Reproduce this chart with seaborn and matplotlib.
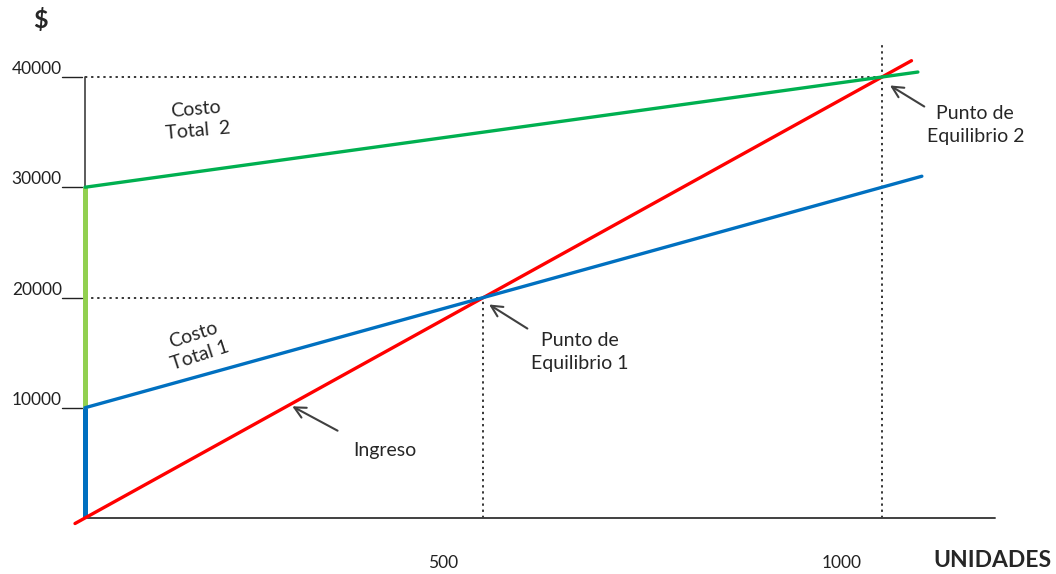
import pandas as pd
import matplotlib.pyplot as plt
import seaborn as sns

# --- datos del punto de equilibrio ---
unidades_ingreso = [-12.5, 0, 500, 1000, 1037]
ingreso = [-500, 0, 20000, 40000, 41480]

unidades_ct1 = [0, 500, 1000, 1050]
costo_total_1 = [10000, 20000, 30000, 31000]

unidades_ct2 = [0, 1000, 1045]
costo_total_2 = [30000, 40000, 40450]

y_ticks = [10000, 20000, 30000, 40000]
x_ticks = [500, 1000]
costo_fijo_1 = 10000
costo_fijo_2 = 30000
equilibrio_1 = (500, 20000)
equilibrio_2 = (1000, 40000)

sns.set_style('white')
plt.rcParams['font.family'] = ['Lato', 'DejaVu Sans']

fig = plt.figure(figsize=(10.56, 5.74), dpi=100)
ax = fig.add_axes([0, 0, 1, 1])
ax.set_xlim(-106.6, 1218.3)
ax.set_ylim(-5079, 46984)
ax.axis('off')

df = pd.concat([
    pd.DataFrame({'u': unidades_ingreso, 'v': ingreso, 'serie': 'Ingreso'}),
    pd.DataFrame({'u': unidades_ct1, 'v': costo_total_1, 'serie': 'Costo Total 1'}),
    pd.DataFrame({'u': unidades_ct2, 'v': costo_total_2, 'serie': 'Costo Total 2'}),
])
colores = {'Ingreso': '#FF0000', 'Costo Total 1': '#0070C0', 'Costo Total 2': '#00B050'}
sns.lineplot(data=df, x='u', y='v', hue='serie', palette=colores, sort=False,
             estimator=None, linewidth=2.4, legend=False, ax=ax, zorder=3)

# ejes
gris = '#404040'
ax.plot([0, 1142], [0, 0], color=gris, lw=1.4, zorder=2)
ax.plot([0, 0], [costo_fijo_2, 40000], color=gris, lw=1.2, zorder=2)
ax.plot([0, 0], [costo_fijo_1, costo_fijo_2], color='#92D050', lw=3.6, zorder=2, solid_capstyle='butt')
ax.plot([0, 0], [0, costo_fijo_1], color='#0070C0', lw=3.6, zorder=2, solid_capstyle='butt')

# lineas punteadas
pe1_u, pe1_v = equilibrio_1
pe2_u, pe2_v = equilibrio_2
punteado = dict(color='black', lw=1.1, ls=(0, (1.5, 2.5)), zorder=1)
ax.plot([0, pe1_u], [pe1_v, pe1_v], **punteado)
ax.plot([pe1_u, pe1_u], [0, pe1_v], **punteado)
ax.plot([0, pe2_u], [pe2_v, pe2_v], **punteado)
ax.plot([pe2_u, pe2_u], [0, 42900], **punteado)

# etiquetas del eje y con su "marca"
for t in y_ticks:
    ax.text(-29, t, f'{t}', ha='right', va='bottom', fontsize=12.5, color='#222222')
    ax.plot([-29, -4], [t, t], color='#222222', lw=1.0)

for t in x_ticks:
    ax.text(t - 51, -4082, f'{t}', ha='center', va='center', fontsize=12.5, color='#222222')

ax.text(-56, 45170, '$', ha='center', va='center', fontsize=18, fontweight='bold')
ax.text(1139, -3810, 'UNIDADES', ha='center', va='center', fontsize=16.5, fontweight='bold')

# textos de las curvas
ax.text(140, 36100, 'Costo\nTotal  2', ha='center', va='center', fontsize=14,
        rotation=5, linespacing=1.3)
ax.text(140, 15690, 'Costo\nTotal 1', ha='center', va='center', fontsize=14,
        rotation=18, linespacing=1.3)

flecha = dict(arrowstyle='->', color='#404040', lw=1.5, mutation_scale=20)
ax.annotate('', xy=(257, 10250), xytext=(320, 7800), arrowprops=flecha)
ax.text(376, 6168, 'Ingreso', ha='center', va='center', fontsize=14)

ax.annotate('', xy=(504, 19500), xytext=(558, 17050), arrowprops=flecha)
ax.text(621, 15057, 'Punto de\nEquilibrio 1', ha='center', va='center', fontsize=14,
        linespacing=1.4)

ax.annotate('', xy=(1007, 39365), xytext=(1056, 37190), arrowprops=flecha)
ax.text(1117, 35646, 'Punto de\nEquilibrio 2', ha='center', va='center', fontsize=14,
        linespacing=1.4)

plt.savefig('out.png', dpi=100)
plt.close()
